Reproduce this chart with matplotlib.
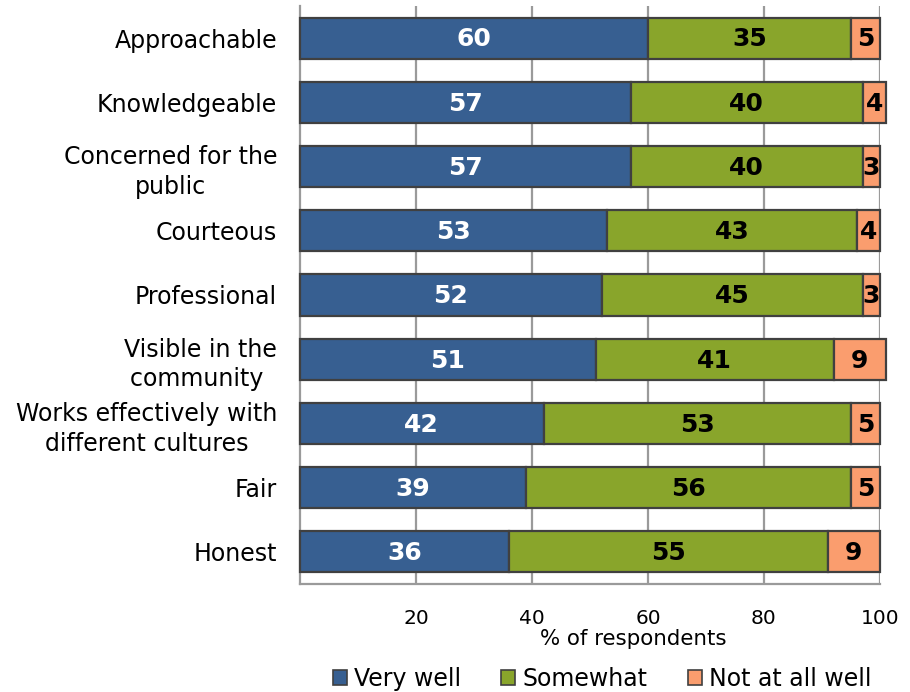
import matplotlib
matplotlib.use("Agg")
import matplotlib.pyplot as plt
from matplotlib.patches import Patch

categories = [
    "Approachable",
    "Knowledgeable",
    "Concerned for the\npublic",
    "Courteous",
    "Professional",
    "Visible in the\ncommunity ",
    "Works effectively with\ndifferent cultures",
    "Fair",
    "Honest",
]
very_well = [60, 57, 57, 53, 52, 51, 42, 39, 36]
somewhat = [35, 40, 40, 43, 45, 41, 53, 56, 55]
not_at_all = [5, 4, 3, 4, 3, 9, 5, 5, 9]
series_names = ["Very well", "Somewhat", "Not at all well"]
x_ticks = [20, 40, 60, 80, 100]

colors = ["#375F91", "#89A52B", "#FA9D6E"]
text_colors = ["white", "black", "black"]
edge = "#404040"
grid_c = "#9A9A9A"

fig = plt.figure(figsize=(9.10, 6.92), dpi=100)
ax = fig.add_axes([300 / 910, 1 - 584 / 692, 580 / 910, 578 / 692])

y = list(range(len(categories)))
left = [0] * len(categories)
for vals, col, tcol in zip([very_well, somewhat, not_at_all], colors, text_colors):
    bars = ax.barh(y, vals, left=left, height=0.64, color=col, edgecolor=edge,
                   linewidth=1.6, zorder=3, clip_on=False)
    for b, v in zip(bars, vals):
        ax.text(b.get_x() + b.get_width() / 2, b.get_y() + b.get_height() / 2 + 0.02,
                f"{v}", ha="center", va="center", color=tcol,
                fontsize=18, fontweight="bold", zorder=4)
    left = [l + v for l, v in zip(left, vals)]

ax.set_xlim(0, 100)
ax.set_ylim(len(categories) - 0.5, -0.5)
ax.set_yticks(y)
ax.set_yticklabels(categories, fontsize=17, multialignment="center",
                   linespacing=1.3)
ax.tick_params(axis="y", length=0, pad=16.5)
ax.set_xticks(x_ticks)
ax.set_xticklabels([str(t) for t in x_ticks], fontsize=14.5)
ax.tick_params(axis="x", length=0, pad=18)

ax.grid(axis="x", color=grid_c, linewidth=1.6, zorder=0)
for s in ["top", "right"]:
    ax.spines[s].set_visible(False)
for s in ["left", "bottom"]:
    ax.spines[s].set_color(grid_c)
    ax.spines[s].set_linewidth(1.6)

fig.text(633 / 910, 1 - 639 / 692, "% of respondents", ha="center", va="center",
         fontsize=15.4)

handles = [Patch(facecolor=c, edgecolor=edge, linewidth=1.2) for c in colors]
fig.legend(handles, series_names, loc="center", bbox_to_anchor=(602 / 910, 1 - 679 / 692),
           ncol=3, frameon=False, fontsize=17, handlelength=0.6, handleheight=0.6,
           handletextpad=0.3, columnspacing=1.7, borderaxespad=0)

fig.savefig("out.png", dpi=100)
